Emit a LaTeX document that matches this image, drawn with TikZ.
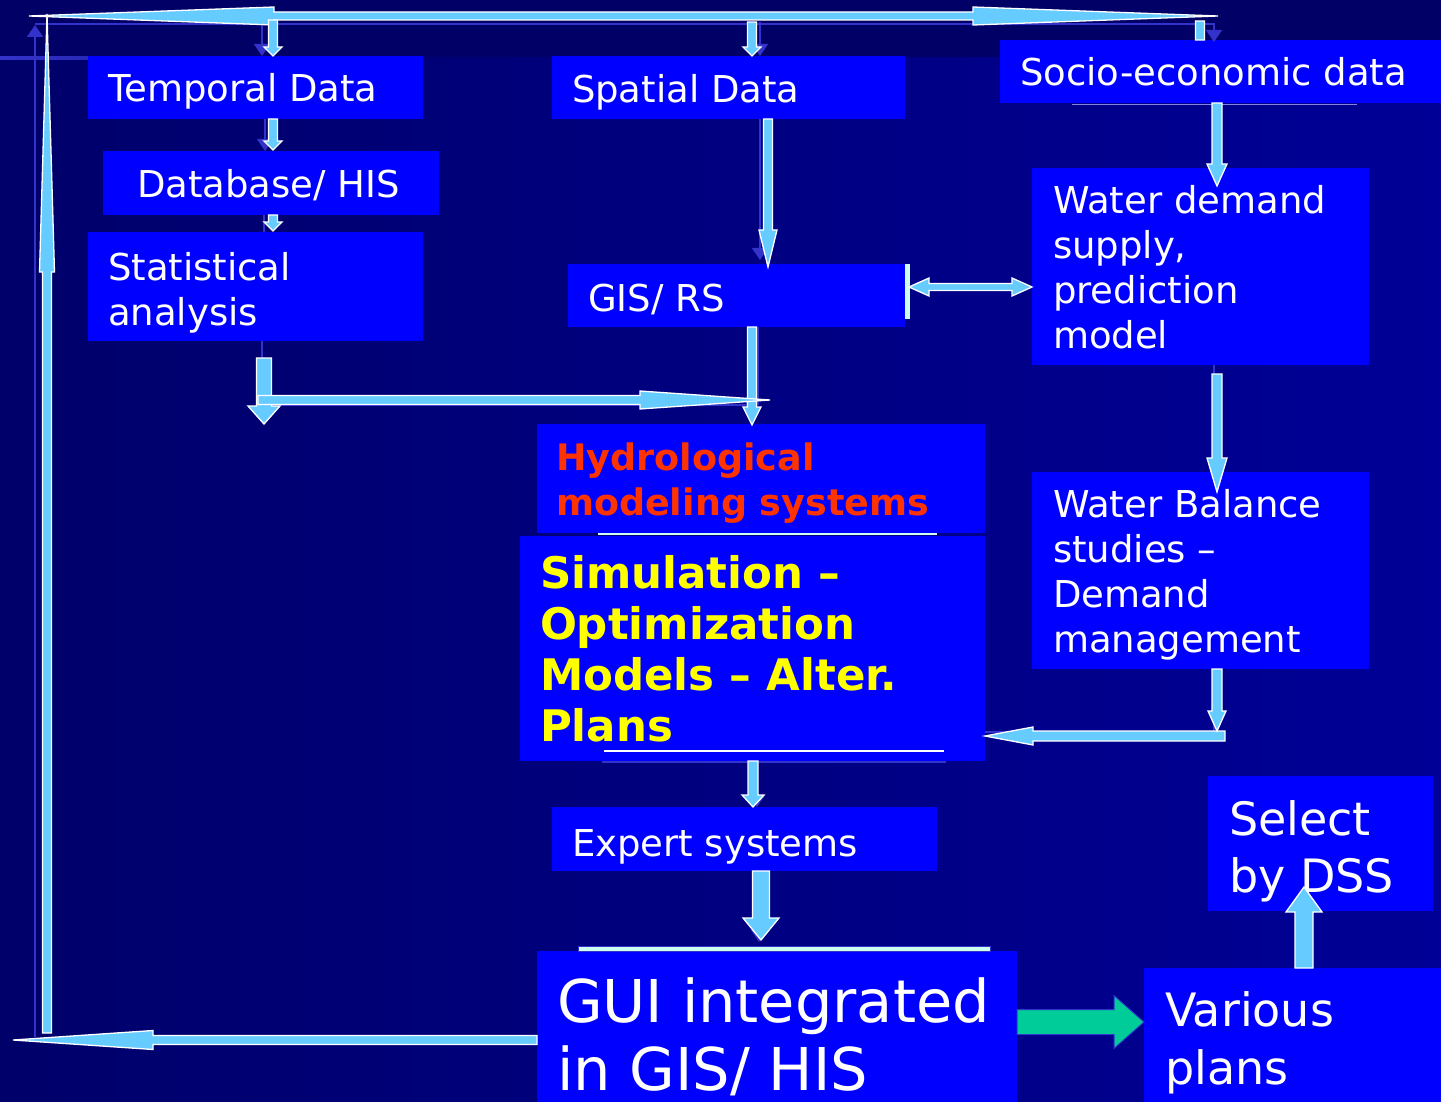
\documentclass[tikz,border=0pt]{standalone}
\usepackage{fontspec}
\setmainfont{DejaVu Sans}
\usetikzlibrary{calc,arrows.meta}

\definecolor{bgleft}{HTML}{00006A}
\definecolor{bgright}{HTML}{000096}
\definecolor{bgtop}{HTML}{000066}
\definecolor{boxblue}{HTML}{0000FF}
\definecolor{arrowblue}{HTML}{66CCFF}
\definecolor{shadeblue}{HTML}{3333CC}
\definecolor{hydrored}{HTML}{FF3300}
\definecolor{simyellow}{HTML}{FFFF00}
\definecolor{teal}{HTML}{00CC99}
\definecolor{paleline}{HTML}{CCFFEE}

% multi-line labels are anchored at the baseline of their last line
\tikzset{
  box/.style={fill=boxblue, draw=none, inner sep=0pt, outer sep=0pt, anchor=north west},
  lbl/.style={text=white, anchor=base west, inner sep=0pt, outer sep=0pt, align=left,
              font=\fontsize{37}{45}\selectfont},
  blockarrow/.style={fill=arrowblue, draw=white, line width=1.3pt, line join=miter},
  thinline/.style={draw=shadeblue, line width=1.4pt},
  thinarrow/.style={thinline, -{Triangle[length=12pt,width=16pt]}},
}

% block arrow: [style]{from}{to}{half shaft}{half head}{head length}
\newcommand\barrow[6][]{%
  \coordinate (ba-h) at ($(#3)!#6!(#2)$);
  \draw[blockarrow,#1] ($(#2)!#4!90:(#3)$) -- ($(ba-h)!#4!90:(#3)$) -- ($(ba-h)!#5!90:(#3)$)
    -- (#3) -- ($(ba-h)!#5!-90:(#3)$) -- ($(ba-h)!#4!-90:(#3)$) -- ($(#2)!#4!-90:(#3)$) -- cycle;}
% block arrow with a head at both ends
\newcommand\dbarrow[6][]{%
  \coordinate (da-a) at ($(#2)!#6!(#3)$);
  \coordinate (da-b) at ($(#3)!#6!(#2)$);
  \draw[blockarrow,#1] (#2) -- ($(da-a)!#5!90:(#3)$) -- ($(da-a)!#4!90:(#3)$)
    -- ($(da-b)!#4!90:(#3)$) -- ($(da-b)!#5!90:(#3)$) -- (#3)
    -- ($(da-b)!#5!-90:(#3)$) -- ($(da-b)!#4!-90:(#3)$)
    -- ($(da-a)!#4!-90:(#3)$) -- ($(da-a)!#5!-90:(#3)$) -- cycle;}

\begin{document}
\begin{tikzpicture}[x=1pt,y=-1pt]
\useasboundingbox (0,0) rectangle (1441,1102);

% background
\fill[left color=bgleft, right color=bgright] (0,0) rectangle (1441,1102);
\fill[bgtop] (0,0) rectangle (1441,57);
\fill[left color=shadeblue, right color=bgtop] (0,57) rectangle (420,60);

% boxes
\node[box, minimum width=335, minimum height=63]  (temporal) at (88,56)   {};
\node[box, minimum width=336, minimum height=64]  (database) at (103,151) {};
\node[box, minimum width=335, minimum height=109] (stat)     at (88,232)  {};
\node[box, minimum width=353, minimum height=63]  (spatial)  at (552,56)  {};
\node[box, minimum width=337, minimum height=63]  (gis)      at (568,264) {};
\node[box, minimum width=441, minimum height=63]  (socio)    at (1000,40) {};
\node[box, minimum width=337, minimum height=197] (demand)   at (1032,168) {};
\node[box, minimum width=448, minimum height=109] (hydro)    at (537,424) {};
\node[box, minimum width=465, minimum height=225] (sim)      at (520,536) {};
\node[box, minimum width=337, minimum height=197] (balance)  at (1032,472) {};
\node[box, minimum width=385, minimum height=64]  (expert)   at (552,807) {};
\node[box, minimum width=480, minimum height=151] (gui)      at (537,951) {};
\node[box, minimum width=297, minimum height=134] (various)  at (1144,968) {};
\node[box, minimum width=225, minimum height=135] (select)   at (1208,776) {};

% thin rules along box edges
\draw[draw=paleline, fill=paleline] (905,264) rectangle (909,318);
\draw[draw=shadeblue!60!white, line width=1pt] (1072,105) -- (1357,105);
\draw[draw=paleline, line width=1.5pt] (598,534) -- (937,534);
\draw[draw=white, line width=1.2pt] (604,751) -- (944,751);
\draw[draw=shadeblue, line width=1.2pt] (602,762) -- (946,762);
\node[fill=paleline, draw=shadeblue, line width=1pt, inner sep=0pt, anchor=north west,
      minimum width=412, minimum height=5] (guiedge) at (578,946) {};

% labels
\node[lbl] (ttemporal) at (108,102) {Temporal Data};
\node[lbl] (tdatabase) at (137,198) {Database/ HIS};
\node[lbl] (tstat)     at (108,325) {Statistical\\analysis};
\node[lbl] (tspatial)  at (572,103) {Spatial Data};
\node[lbl] (tgis)      at (588,311) {GIS/ RS};
\node[lbl] (tsocio)    at (1020,86) {Socio-economic data};
\node[lbl] (tdemand)   at (1053,348) {Water demand\\supply,\\prediction\\model};
\node[lbl] (tbalance)  at (1053,652) {Water Balance\\studies –\\Demand\\management};
\node[lbl, text=hydrored, font=\fontsize{36.5}{45}\selectfont\bfseries] (thydro) at (556,515)
  {Hydrological\\modeling systems};
\node[lbl, text=simyellow, font=\fontsize{43.5}{51}\selectfont\bfseries] (tsim) at (540,741)
  {Simulation –\\Optimization\\Models – Alter.\\Plans};
\node[lbl] (texpert)   at (572,856) {Expert systems};
\node[lbl, font=\fontsize{59}{68}\selectfont] (tgui) at (557,1090) {GUI integrated\\in GIS/ HIS};
\node[lbl, font=\fontsize{46}{58}\selectfont] (tvarious) at (1165,1084) {Various\\plans};
\node[lbl, font=\fontsize{46}{57}\selectfont] (tselect)  at (1229,892) {Select\\by DSS};

% anchor points of the connectors
\coordinate (tl)   at (29,16);
\coordinate (tr)   at (1218,16);
\coordinate (lbot) at (47,1033);
\coordinate (ltop) at (47,14);
\coordinate (gout) at (gui.west |- 0,1040);
\coordinate (bend) at (13,1040);
\coordinate (ts)  at (273,20);   \coordinate (te)  at (temporal.north -| ts);
\coordinate (t2s) at (temporal.south -| ts); \coordinate (t2e) at (273,150);
\coordinate (t3s) at (database.south -| ts); \coordinate (t3e) at (273,231);
\coordinate (ss)  at (752,22);   \coordinate (se)  at (spatial.north -| ss);
\coordinate (os)  at (1200,21);  \coordinate (oe)  at (socio.north -| os);
\coordinate (gs)  at (spatial.south -| 768,0); \coordinate (ge) at (768,267);
\coordinate (hs)  at (gis.south -| 752,0);     \coordinate (he) at (752,425);
\coordinate (ds)  at (264,358); \coordinate (de) at (264,424);
\coordinate (rs)  at (258,400); \coordinate (re) at (770,400);
\coordinate (xs)  at (909,287); \coordinate (xe) at (demand.west |- xs);
\coordinate (ws)  at (socio.south -| 1217,0);  \coordinate (we) at (1217,186);
\coordinate (bs)  at (1217,374); \coordinate (be) at (1217,492);
\coordinate (vs)  at (balance.south -| 1217,0); \coordinate (ve) at (1217,731);
\coordinate (ls)  at (1225,736); \coordinate (le) at (sim.east |- ls);
\coordinate (es)  at (sim.south -| 753,0);     \coordinate (ee) at (expert.north -| 753,0);
\coordinate (us)  at (expert.south -| 761,0);  \coordinate (ue) at (761,940);
\coordinate (ps)  at (gui.east |- 0,1022);     \coordinate (pe) at (various.west |- ps);
\coordinate (qs)  at (various.north -| 1304,0); \coordinate (qe) at (1304,887);

% thin shadow connectors
\draw[thinline] (35,1037) -- (35,40);
\draw[thinarrow] (35,60) -- (35,25);
\draw[thinarrow] (35,24) -- (1214,24) -- (1214,42);
\draw[thinarrow] (262,24) -- (temporal.north -| 262,0);
\draw[thinarrow] (temporal.south -| 265,0) -- (database.north -| 265,0);
\draw[thinline] (database.south -| 264,0) -- (stat.north -| 264,0);
\draw[thinarrow] (760,22) -- (spatial.north -| 760,0);
\draw[thinarrow] (spatial.south -| 760,0) -- (760,260);
\draw[thinline] (gis.south -| 758,0) -- (758,405);
\draw[thinarrow] (stat.south -| 262,0) -- (262,405) -- (758,405);
\draw[thinline] (demand.south -| 1214,0) -- (1214,376);
\draw[thinline] (balance.south -| 1214,0) -- (1214,732) -- (sim.east |- 0,732);
\draw[thinarrow] (sim.south -| 757,0) -- (expert.north -| 757,0);
\draw[thinarrow] (expert.south -| 759,0) -- (759,942);

% block connectors
\barrow{lbot}{ltop}{4.5pt}{7.5pt}{258pt}
\dbarrow{tl}{tr}{4pt}{9pt}{245pt}
\barrow{gout}{bend}{4.5pt}{9.5pt}{140pt}
\barrow{ts}{te}{4.5pt}{9pt}{9pt}
\barrow{t2s}{t2e}{4.5pt}{9pt}{9pt}
\barrow{t3s}{t3e}{4.5pt}{9pt}{9pt}
\barrow{ss}{se}{4.5pt}{9pt}{9pt}
\barrow{os}{oe}{4.5pt}{4.5pt}{0.1pt}
\barrow{gs}{ge}{4.5pt}{9pt}{37pt}
\barrow{hs}{he}{4.5pt}{9pt}{18pt}
\barrow{ds}{de}{7.5pt}{16pt}{18pt}
\barrow{rs}{re}{4.5pt}{9pt}{130pt}
\dbarrow{xs}{xe}{3.5pt}{9pt}{20pt}
\barrow{ws}{we}{5pt}{10pt}{22pt}
\barrow{bs}{be}{5pt}{10pt}{34pt}
\barrow{ls}{le}{5pt}{9pt}{48pt}
\barrow{vs}{ve}{5pt}{9pt}{20pt}
\barrow{es}{ee}{5pt}{11pt}{12pt}
\barrow{us}{ue}{8.5pt}{18pt}{22pt}
\barrow[fill=teal, draw=shadeblue, line width=1pt]{ps}{pe}{12.5pt}{26.5pt}{30pt}
\barrow{qs}{qe}{9pt}{18pt}{25pt}
\end{tikzpicture}
\end{document}
